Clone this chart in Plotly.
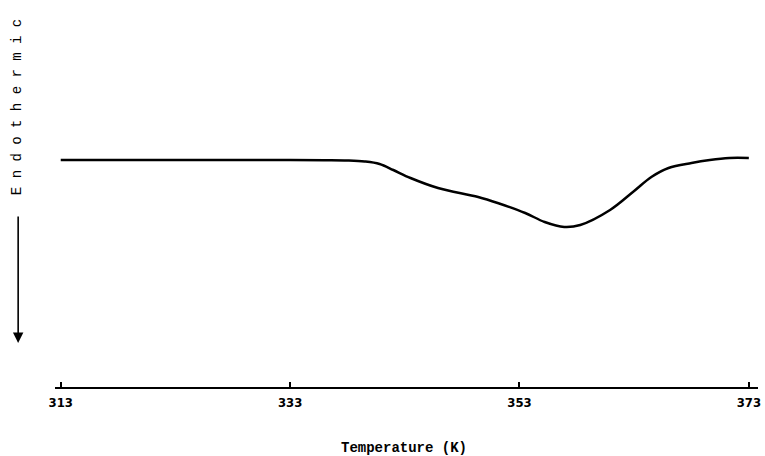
import plotly.graph_objects as go

# Temperature (K) and heat-flow signal (arbitrary units)
temperature = [313, 318, 323, 328, 333, 336, 338, 339.5, 340.8, 342.0, 343.5, 345.9,
               349.4, 351.1, 353.5, 355.2, 356.9, 358.3, 360.9, 363.0, 364.5, 366.0,
               368.0, 369.6, 371.3, 373.0]
heat_flow = [2.27, 2.27, 2.27, 2.27, 2.27, 2.268, 2.265, 2.255, 2.23, 2.17, 2.09, 1.99,
             1.90, 1.84, 1.74, 1.65, 1.60, 1.62, 1.77, 1.96, 2.10, 2.19,
             2.24, 2.27, 2.29, 2.29]
tick_values = [313, 333, 353, 373]
tick_labels = ["313", "333", "353", "373"]

fig = go.Figure()
fig.add_trace(go.Scatter(
    x=temperature, y=heat_flow, mode="lines",
    line=dict(color="black", width=2.5, shape="spline", smoothing=1.0),
    hoverinfo="skip", showlegend=False,
))

fig.update_layout(
    width=765, height=456,
    margin=dict(l=55, r=4, t=10, b=69),
    paper_bgcolor="white", plot_bgcolor="white",
    xaxis=dict(
        range=[312.5, 373.8], showgrid=False, zeroline=False,
        showline=True, linecolor="black", linewidth=2,
        ticks="inside", ticklen=5, tickwidth=2, tickcolor="black",
        tickvals=tick_values, ticktext=tick_labels,
        tickfont=dict(family="DejaVu Sans Condensed, Liberation Sans Narrow, sans-serif",
                      size=13, color="black", weight="bold"),
        ticklabelstandoff=2,
    ),
    yaxis=dict(range=[0, 3.77], visible=False),
    annotations=[
        dict(text="<b>Temperature (K)</b>", xref="paper", yref="paper",
             x=(405 - 55) / 706, y=-(448 - 377 - 10) / 377,
             showarrow=False, xanchor="center", yanchor="middle",
             font=dict(family="Liberation Mono, monospace", size=14, color="black")),
        dict(text="E n d o t h e r m i c", xref="paper", yref="y",
             x=(17 - 55) / 706, y=(387 - 107) / 100, textangle=-90,
             showarrow=False, xanchor="center", yanchor="middle",
             font=dict(family="Liberation Mono, monospace", size=14, color="black")),
        dict(text="", xref="paper", yref="y",
             x=(18 - 55) / 706, y=(387 - 343) / 100,
             ax=0, ay=-128, showarrow=True, arrowhead=2, arrowsize=1.3,
             arrowwidth=1.6, arrowcolor="black"),
    ],
)

fig.write_html("out.html")
